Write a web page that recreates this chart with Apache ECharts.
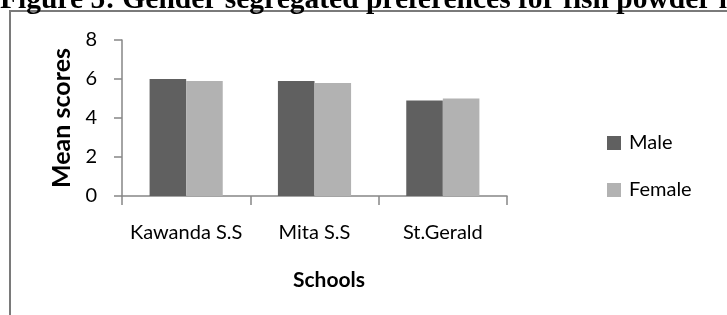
<!DOCTYPE html>
<html>
<head>
<meta charset="utf-8">
<script src="https://cdn.jsdelivr.net/npm/echarts@6/dist/echarts.min.js"></script>
<style>
  html, body { margin: 0; padding: 0; background: #fff; }
  #chart { width: 727px; height: 315px; }
</style>
</head>
<body>
<div id="chart"></div>
<script>
// ── Data ───────────────────────────────────────────────
const schools      = ['Kawanda S.S', 'Mita S.S', 'St.Gerald'];
const maleScores   = [6.0, 5.9, 4.9];
const femaleScores = [5.9, 5.8, 5.0];
const yTicks       = [0, 2, 4, 6, 8];

const FONT = 'Lato, "Open Sans", sans-serif';
const AXIS_GREY = '#868686';

const chart = echarts.init(document.getElementById('chart'));

chart.setOption({
  backgroundColor: '#fff',
  animation: false,

  graphic: [
    // caption, cut off by the top of the page
    {
      type: 'text', left: 0, top: -15, z: 10,
      style: {
        text: 'Figure 5: Gender segregated preferences for fish powder in',
        font: 'bold 29.5px "Liberation Serif", "Times New Roman", serif',
        fill: '#000'
      }
    },
    // chart frame (only left/top edges are visible)
    {
      type: 'rect', z: 5,
      shape: { x: 10, y: 11, width: 760, height: 340 },
      style: { fill: 'none', stroke: '#7a7a7a', lineWidth: 2 }
    }
  ],

  grid: { left: 122, right: 220, top: 40, bottom: 119 },

  legend: {
    orient: 'vertical',
    left: 607, top: 133,
    padding: 0,
    itemWidth: 14, itemHeight: 14,
    itemGap: 27,
    icon: 'rect',
    textStyle: { fontFamily: FONT, fontSize: 20, color: '#000', padding: [0, 0, 0, 3] },
    data: ['Male', 'Female']
  },

  xAxis: {
    type: 'category',
    data: schools,
    name: 'Schools',
    nameLocation: 'middle',
    nameGap: 74,
    nameTextStyle: { fontFamily: FONT, fontSize: 21, fontWeight: 'bold', color: '#000', padding: [0, 0, 0, 29] },
    axisLine: { lineStyle: { color: AXIS_GREY, width: 1.5 } },
    axisTick: { show: true, length: 9, lineStyle: { color: AXIS_GREY, width: 1.5 } },
    axisLabel: { fontFamily: FONT, fontSize: 20, color: '#000', margin: 27, interval: 0 }
  },

  yAxis: {
    type: 'value',
    min: yTicks[0],
    max: yTicks[yTicks.length - 1],
    interval: 2,
    name: 'Mean scores',
    nameLocation: 'middle',
    nameGap: 48,
    nameTextStyle: { fontFamily: FONT, fontSize: 25, fontWeight: 'bold', color: '#000' },
    axisLine: { show: true, lineStyle: { color: AXIS_GREY, width: 1.5 } },
    axisTick: { show: true, length: 8, lineStyle: { color: AXIS_GREY, width: 1.5 } },
    splitLine: { show: false },
    axisLabel: { fontFamily: FONT, fontSize: 20, color: '#000', margin: 25 }
  },

  series: [
    {
      name: 'Male', type: 'bar',
      data: maleScores,
      barGap: '0%', barCategoryGap: '43%',
      itemStyle: { color: '#606060' }
    },
    {
      name: 'Female', type: 'bar',
      data: femaleScores,
      itemStyle: { color: '#b2b2b2' }
    }
  ]
});
</script>
</body>
</html>
